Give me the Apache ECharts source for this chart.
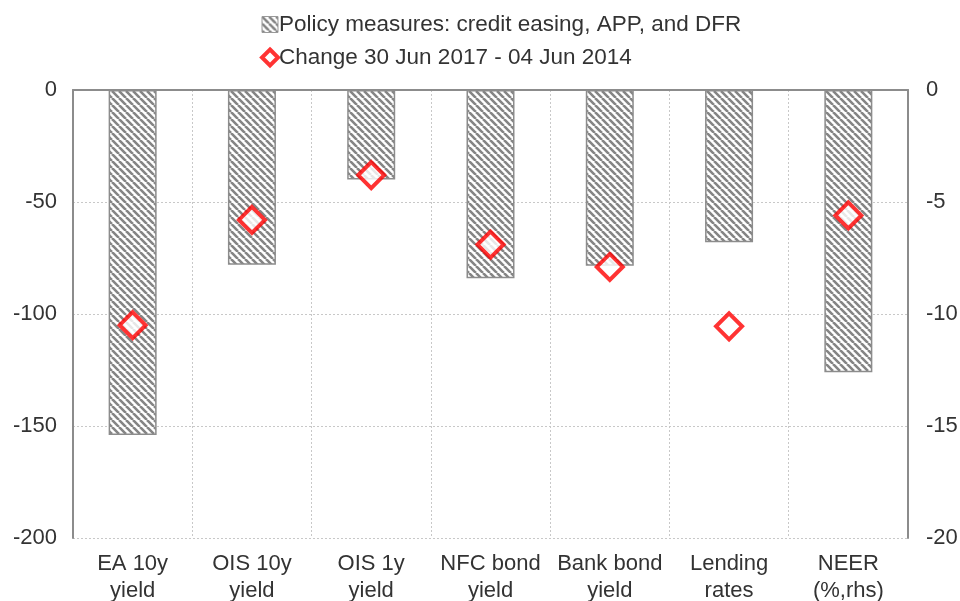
<!DOCTYPE html>
<html>
<head>
<meta charset="utf-8">
<script src="https://cdn.jsdelivr.net/npm/echarts@6/dist/echarts.min.js"></script>
<style>
  html, body { margin: 0; padding: 0; background: #fff; }
  #chart { width: 960px; height: 601px; }
</style>
</head>
<body>
<div id="chart"></div>
<script>
const categories = ['EA 10y\nyield', 'OIS 10y\nyield', 'OIS 1y\nyield', 'NFC bond\nyield', 'Bank bond\nyield', 'Lending\nrates', 'NEER\n(%,rhs)']
// bps on left axis; NEER in % on right axis
const policyLeft = [-154, -78, -40, -84, -78.5, -68, null]
const policyRight = [null, null, null, null, null, null, -12.6]
const changeLeft = [-105, -58, -38, -69, -79, -105.5, null]
const changeRight = [null, null, null, null, null, null, -5.6]

const barName = 'Policy measures: credit easing, APP, and DFR'
const dotName = 'Change 30 Jun 2017 - 04 Jun 2014'

// diagonal hatch
const hatch = document.createElement('canvas')
hatch.width = 7; hatch.height = 7
const hc = hatch.getContext('2d')
hc.fillStyle = '#ffffff'
hc.fillRect(0, 0, 7, 7)
hc.strokeStyle = '#858585'
hc.lineWidth = 2.6
hc.beginPath()
for (let k = -7; k <= 14; k += 7) {
  hc.moveTo(k, 0); hc.lineTo(k + 7, 7)
}
hc.stroke()
const hatchFill = { image: hatch, repeat: 'repeat' }

const c = echarts.init(document.getElementById('chart'))
const font = 'Liberation Sans, Arial, sans-serif'
c.setOption({
  animation: false,
  textStyle: { fontFamily: font },
  legend: {
    orient: 'vertical', top: 8, left: 255, itemGap: 10,
    itemWidth: 16, itemHeight: 16,
    textStyle: { fontSize: 22.5, color: '#333', fontFamily: font, padding: [0, 0, 0, -4] },
    data: [
      { name: barName, icon: 'rect', itemStyle: { color: hatchFill, borderColor: '#999', borderWidth: 1 } },
      { name: dotName, icon: 'diamond', itemStyle: { color: '#fff', borderColor: '#ff0000', borderWidth: 4 } }
    ]
  },
  grid: { left: 73, right: 52, top: 90, bottom: 63, outerBoundsMode: 'none' },
  xAxis: [
    {
      type: 'category', data: categories, position: 'top',
      axisLine: { show: true, lineStyle: { color: '#8c8c8c', width: 2 } },
      axisTick: { show: false },
      axisLabel: { show: false },
      splitLine: { show: true, lineStyle: { color: '#c8c8c8', type: [2, 2], width: 1 } }
    },
    {
      type: 'category', data: categories, position: 'bottom',
      axisLine: { show: false },
      axisTick: { show: false },
      axisLabel: { interval: 0, fontSize: 22, color: '#333', lineHeight: 27, margin: 12, fontFamily: font },
      splitLine: { show: false }
    }
  ],
  yAxis: [
    {
      type: 'value', min: -200, max: 0, interval: 50,
      axisLine: { show: true, lineStyle: { color: '#8c8c8c', width: 2 } },
      axisTick: { show: false },
      axisLabel: { fontSize: 22, color: '#333', margin: 16, fontFamily: font },
      splitLine: { show: true, lineStyle: { color: '#c8c8c8', type: [2, 2], width: 1 } }
    },
    {
      type: 'value', min: -20, max: 0, interval: 5, position: 'right',
      axisLine: { show: true, lineStyle: { color: '#8c8c8c', width: 2 } },
      axisTick: { show: false },
      axisLabel: { fontSize: 22, color: '#333', margin: 18, fontFamily: font },
      splitLine: { show: false }
    }
  ],
  series: [
    {
      name: barName, type: 'bar', yAxisIndex: 0, data: policyLeft, barWidth: 48, barGap: '-100%',
      itemStyle: { color: hatchFill, borderColor: '#8c8c8c', borderWidth: 1.5 }, z: 1
    },
    {
      name: barName, type: 'bar', yAxisIndex: 1, data: policyRight, barWidth: 48, barGap: '-100%',
      itemStyle: { color: hatchFill, borderColor: '#8c8c8c', borderWidth: 1.5 }, z: 1
    },
    {
      name: dotName, type: 'scatter', yAxisIndex: 0, data: changeLeft, symbol: 'diamond', symbolSize: 26,
      itemStyle: { color: '#fff', borderColor: '#ff0000', borderWidth: 4 }, z: 5
    },
    {
      name: dotName, type: 'scatter', yAxisIndex: 1, data: changeRight, symbol: 'diamond', symbolSize: 26,
      itemStyle: { color: '#fff', borderColor: '#ff0000', borderWidth: 4 }, z: 5
    }
  ]
})
</script>
</body>
</html>
